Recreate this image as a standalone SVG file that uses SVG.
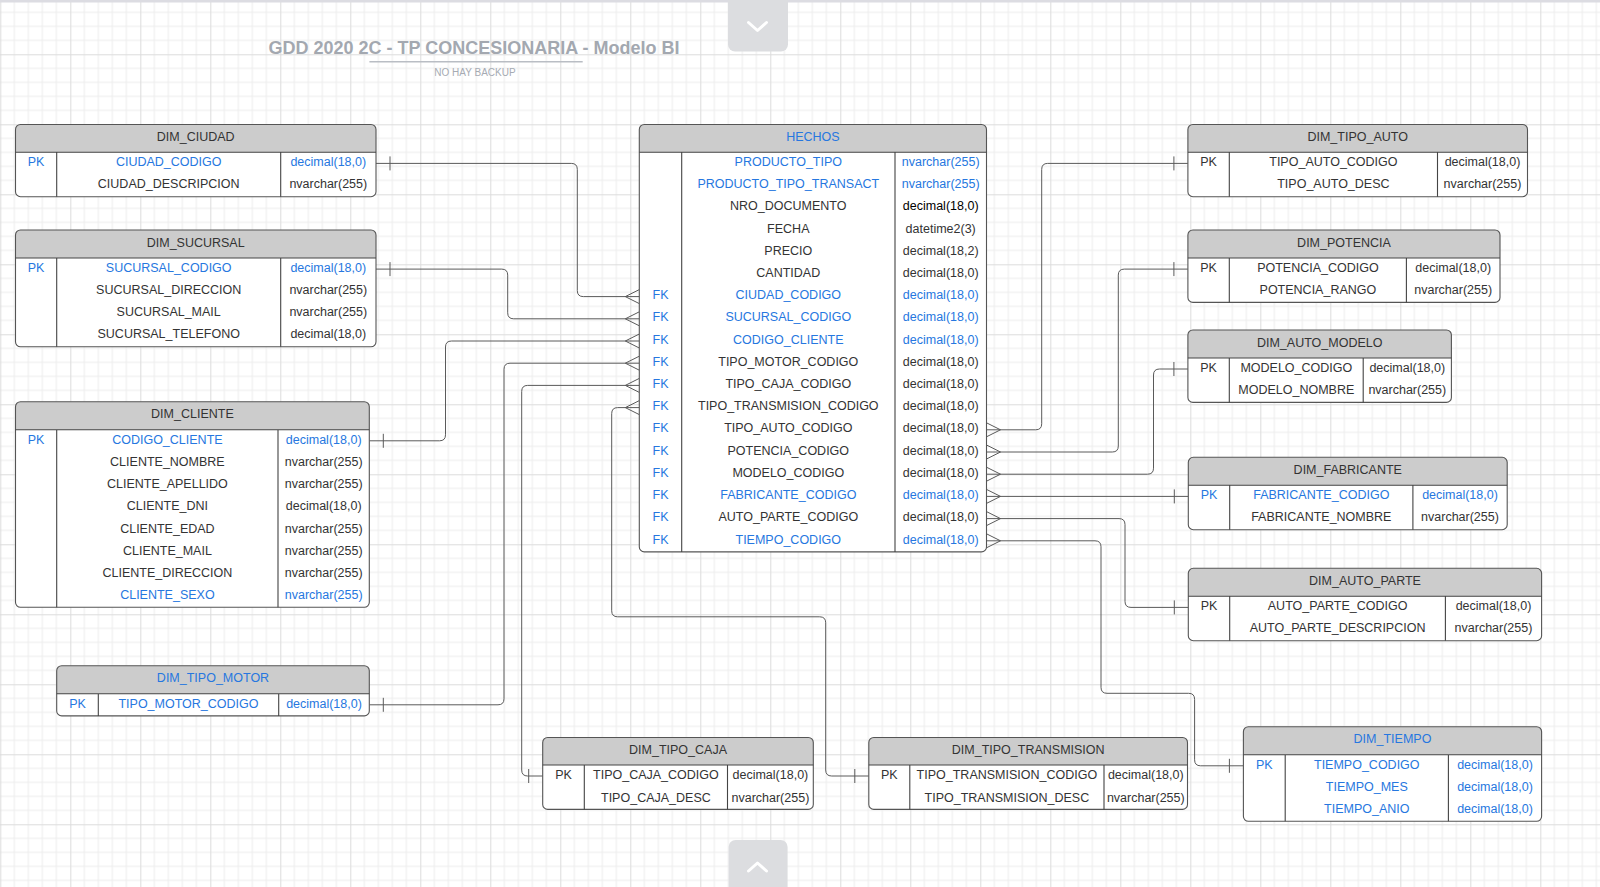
<svg xmlns="http://www.w3.org/2000/svg" width="1600" height="887" viewBox="0 0 1600 887">
<style>
.t{font-family:"Liberation Sans",Arial,sans-serif;font-size:12.5px;fill:#333;text-anchor:middle}
.b{fill:#2677e0}
.k{fill:#000}
.box{fill:#fff;stroke:none}
.hd{fill:#cccccc;stroke:none}
.fr{fill:none;stroke:#555;stroke-width:1.1}
.ln{fill:none;stroke:#444;stroke-width:1.1}
.cn{fill:none;stroke:#5a5a5a;stroke-width:1}
.btn{fill:#dcdde0}
.chev{fill:none;stroke:#fff;stroke-width:3;stroke-linecap:round;stroke-linejoin:round}
</style>
<defs>
<pattern id="grid" x="0.3" y="54.3" width="70" height="70" patternUnits="userSpaceOnUse">
<path d="M14 0V70M28 0V70M42 0V70M56 0V70M0 14H70M0 28H70M0 42H70M0 56H70" fill="none" stroke="#ececec" stroke-width="1"/>
<path d="M0.5 0V70M0 0.5H70" fill="none" stroke="#dcdcdc" stroke-width="1"/>
</pattern>
</defs>
<rect width="1600" height="887" fill="#fff"/>
<rect width="1600" height="887" fill="url(#grid)"/>
<rect width="1600" height="2.5" fill="#dcdce2"/>

<g id="title">
<text x="474" y="54" style="font-family:'Liberation Sans',Arial,sans-serif;font-size:18px;font-weight:bold;fill:#a3a8b0;text-anchor:middle">GDD 2020 2C - TP CONCESIONARIA - Modelo BI</text>
<line x1="369.4" y1="61.7" x2="582.7" y2="61.7" stroke="#b9bdc4" stroke-width="1.6"/>
<text x="475" y="76" style="font-family:'Liberation Sans',Arial,sans-serif;font-size:10px;fill:#a6abb3;text-anchor:middle">NO HAY BACKUP</text>
</g>

<g id="nav">
<rect class="btn" x="728" y="-10" width="60" height="61.5" rx="7"/>
<polyline class="chev" points="748.5,22.5 757.5,30.5 766.5,22.5"/>
<rect class="btn" x="728.6" y="840" width="59" height="60" rx="7"/>
<polyline class="chev" points="748.5,871 757.5,863 766.5,871"/>
</g>

<g id="connectors">
<path class="cn" d="M376 163.4H571.3Q577.3 163.4 577.3 169.4V290.6Q577.3 296.6 583.3 296.6H639.3"/>
<path class="cn" d="M376 269.1H501.7Q507.7 269.1 507.7 275.1V312.8Q507.7 318.8 513.7 318.8H639.3"/>
<path class="cn" d="M369.3 440.8H439.5Q445.5 440.8 445.5 434.8V347Q445.5 341 451.5 341H639.3"/>
<path class="cn" d="M369.3 704.8H498Q504 704.8 504 698.8V369.2Q504 363.2 510 363.2H639.3"/>
<path class="cn" d="M639.3 385.4H527.7Q521.7 385.4 521.7 391.4V770Q521.7 776 527.7 776H542.7"/>
<path class="cn" d="M639.3 407.6H617.7Q611.7 407.6 611.7 413.6V610.8Q611.7 616.8 617.7 616.8H819.7Q825.7 616.8 825.7 622.8V770Q825.7 776 831.7 776H868.8"/>
<path class="cn" d="M986.5 429.8H1035.7Q1041.7 429.8 1041.7 423.8V169.4Q1041.7 163.4 1047.7 163.4H1187.9"/>
<path class="cn" d="M986.5 452H1112.3Q1118.3 452 1118.3 446V275.1Q1118.3 269.1 1124.3 269.1H1187.9"/>
<path class="cn" d="M986.5 474.2H1147.5Q1153.5 474.2 1153.5 468.2V375Q1153.5 369 1159.5 369H1187.9"/>
<path class="cn" d="M986.5 496.4H1188.3"/>
<path class="cn" d="M986.5 518.6H1119Q1125 518.6 1125 524.6V601.4Q1125 607.4 1131 607.4H1188.3"/>
<path class="cn" d="M986.5 540.8H1095Q1101 540.8 1101 546.8V687.3Q1101 693.3 1107 693.3H1188.6Q1194.6 693.3 1194.6 699.3V759.8Q1194.6 765.8 1200.6 765.8H1243.4"/>
<path class="cn" d="M390 156.4V170.4M390 262.1V276.1M383.3 433.8V447.8M383.3 697.8V711.8M528.7 769V783M854.8 769V783M1173.9 156.4V170.4M1173.9 262.1V276.1M1173.9 362V376M1174.3 489.4V503.4M1174.3 600.4V614.4M1229.4 758.8V772.8"/>
<path class="cn" d="M639.3 289.6L625.3 296.6L639.3 303.6M639.3 311.8L625.3 318.8L639.3 325.8M639.3 334L625.3 341L639.3 348M639.3 356.2L625.3 363.2L639.3 370.2M639.3 378.4L625.3 385.4L639.3 392.4M639.3 400.6L625.3 407.6L639.3 414.6"/>
<path class="cn" d="M986.5 422.8L1000.5 429.8L986.5 436.8M986.5 445L1000.5 452L986.5 459M986.5 467.2L1000.5 474.2L986.5 481.2M986.5 489.4L1000.5 496.4L986.5 503.4M986.5 511.6L1000.5 518.6L986.5 525.6M986.5 533.8L1000.5 540.8L986.5 547.8"/>
</g>

<g id="dim_ciudad">
<rect class="box" x="15.5" y="124.5" width="360.5" height="72.2" rx="5"/>
<path class="hd" d="M15.5 152.3V129.5Q15.5 124.5 20.5 124.5H371Q376 124.5 376 129.5V152.3Z"/>
<rect class="fr" x="15.5" y="124.5" width="360.5" height="72.2" rx="5"/>
<path class="ln" d="M15.5 152.3H376M56.7 152.3V196.7M280.7 152.3V196.7"/>
<text class="t" x="195.7" y="141">DIM_CIUDAD</text>
<text class="t b" x="36" y="166.4">PK</text><text class="t b" x="168.7" y="166.4">CIUDAD_CODIGO</text><text class="t b" x="328.3" y="166.4">decimal(18,0)</text>
<text class="t" x="168.7" y="188">CIUDAD_DESCRIPCION</text><text class="t" x="328.3" y="188">nvarchar(255)</text>
</g>

<g id="dim_sucursal">
<rect class="box" x="15.5" y="230" width="360.5" height="116.8" rx="5"/>
<path class="hd" d="M15.5 258V235Q15.5 230 20.5 230H371Q376 230 376 235V258Z"/>
<rect class="fr" x="15.5" y="230" width="360.5" height="116.8" rx="5"/>
<path class="ln" d="M15.5 258H376M56.7 258V346.8M280.7 258V346.8"/>
<text class="t" x="195.7" y="246.5">DIM_SUCURSAL</text>
<text class="t b" x="36" y="272.1">PK</text><text class="t b" x="168.7" y="272.1">SUCURSAL_CODIGO</text><text class="t b" x="328.3" y="272.1">decimal(18,0)</text>
<text class="t" x="168.7" y="294.1">SUCURSAL_DIRECCION</text><text class="t" x="328.3" y="294.1">nvarchar(255)</text>
<text class="t" x="168.7" y="316.2">SUCURSAL_MAIL</text><text class="t" x="328.3" y="316.2">nvarchar(255)</text>
<text class="t" x="168.7" y="338.3">SUCURSAL_TELEFONO</text><text class="t" x="328.3" y="338.3">decimal(18,0)</text>
</g>

<g id="dim_cliente">
<rect class="box" x="15.5" y="401.7" width="353.8" height="205.6" rx="5"/>
<path class="hd" d="M15.5 429.7V406.7Q15.5 401.7 20.5 401.7H364.3Q369.3 401.7 369.3 406.7V429.7Z"/>
<rect class="fr" x="15.5" y="401.7" width="353.8" height="205.6" rx="5"/>
<path class="ln" d="M15.5 429.7H369.3M56.7 429.7V607.3M278 429.7V607.3"/>
<text class="t" x="192.4" y="418.4">DIM_CLIENTE</text>
<text class="t b" x="36" y="443.8">PK</text><text class="t b" x="167.4" y="443.8">CODIGO_CLIENTE</text><text class="t b" x="323.7" y="443.8">decimal(18,0)</text>
<text class="t" x="167.4" y="466">CLIENTE_NOMBRE</text><text class="t" x="323.7" y="466">nvarchar(255)</text>
<text class="t" x="167.4" y="488.2">CLIENTE_APELLIDO</text><text class="t" x="323.7" y="488.2">nvarchar(255)</text>
<text class="t" x="167.4" y="510.4">CLIENTE_DNI</text><text class="t" x="323.7" y="510.4">decimal(18,0)</text>
<text class="t" x="167.4" y="532.6">CLIENTE_EDAD</text><text class="t" x="323.7" y="532.6">nvarchar(255)</text>
<text class="t" x="167.4" y="554.8">CLIENTE_MAIL</text><text class="t" x="323.7" y="554.8">nvarchar(255)</text>
<text class="t" x="167.4" y="577">CLIENTE_DIRECCION</text><text class="t" x="323.7" y="577">nvarchar(255)</text>
<text class="t b" x="167.4" y="599.2">CLIENTE_SEXO</text><text class="t b" x="323.7" y="599.2">nvarchar(255)</text>
</g>

<g id="dim_tipo_motor">
<rect class="box" x="56.7" y="665.7" width="312.6" height="50.2" rx="5"/>
<path class="hd" d="M56.7 693.7V670.7Q56.7 665.7 61.7 665.7H364.3Q369.3 665.7 369.3 670.7V693.7Z"/>
<rect class="fr" x="56.7" y="665.7" width="312.6" height="50.2" rx="5"/>
<path class="ln" d="M56.7 693.7H369.3M98.3 693.7V715.9M278.7 693.7V715.9"/>
<text class="t b" x="213" y="682.4">DIM_TIPO_MOTOR</text>
<text class="t b" x="77.5" y="707.8">PK</text><text class="t b" x="188.5" y="707.8">TIPO_MOTOR_CODIGO</text><text class="t b" x="324" y="707.8">decimal(18,0)</text>
</g>

<g id="hechos">
<rect class="box" x="639.3" y="124.5" width="347.2" height="427.4" rx="5"/>
<path class="hd" d="M639.3 152.3V129.5Q639.3 124.5 644.3 124.5H981.5Q986.5 124.5 986.5 129.5V152.3Z"/>
<rect class="fr" x="639.3" y="124.5" width="347.2" height="427.4" rx="5"/>
<path class="ln" d="M639.3 152.3H986.5M681.7 152.3V551.9M895 152.3V551.9"/>
<text class="t b" x="812.9" y="141">HECHOS</text>
<text class="t b" x="788.3" y="166.4">PRODUCTO_TIPO</text><text class="t b" x="940.7" y="166.4">nvarchar(255)</text>
<text class="t b" x="788.3" y="188.3">PRODUCTO_TIPO_TRANSACT</text><text class="t b" x="940.7" y="188.3">nvarchar(255)</text>
<text class="t" x="788.3" y="210.3">NRO_DOCUMENTO</text><text class="t k" x="940.7" y="210.3">decimal(18,0)</text>
<text class="t" x="788.3" y="233">FECHA</text><text class="t" x="940.7" y="233">datetime2(3)</text>
<text class="t" x="788.3" y="255.2">PRECIO</text><text class="t" x="940.7" y="255.2">decimal(18,2)</text>
<text class="t" x="788.3" y="277.2">CANTIDAD</text><text class="t" x="940.7" y="277.2">decimal(18,0)</text>
<text class="t b" x="660.5" y="299.2">FK</text><text class="t b" x="788.3" y="299.2">CIUDAD_CODIGO</text><text class="t b" x="940.7" y="299.2">decimal(18,0)</text>
<text class="t b" x="660.5" y="321.2">FK</text><text class="t b" x="788.3" y="321.2">SUCURSAL_CODIGO</text><text class="t b" x="940.7" y="321.2">decimal(18,0)</text>
<text class="t b" x="660.5" y="344">FK</text><text class="t b" x="788.3" y="344">CODIGO_CLIENTE</text><text class="t b" x="940.7" y="344">decimal(18,0)</text>
<text class="t b" x="660.5" y="366.2">FK</text><text class="t" x="788.3" y="366.2">TIPO_MOTOR_CODIGO</text><text class="t" x="940.7" y="366.2">decimal(18,0)</text>
<text class="t b" x="660.5" y="388.2">FK</text><text class="t" x="788.3" y="388.2">TIPO_CAJA_CODIGO</text><text class="t" x="940.7" y="388.2">decimal(18,0)</text>
<text class="t b" x="660.5" y="410.2">FK</text><text class="t" x="788.3" y="410.2">TIPO_TRANSMISION_CODIGO</text><text class="t" x="940.7" y="410.2">decimal(18,0)</text>
<text class="t b" x="660.5" y="432.2">FK</text><text class="t" x="788.3" y="432.2">TIPO_AUTO_CODIGO</text><text class="t" x="940.7" y="432.2">decimal(18,0)</text>
<text class="t b" x="660.5" y="455">FK</text><text class="t" x="788.3" y="455">POTENCIA_CODIGO</text><text class="t" x="940.7" y="455">decimal(18,0)</text>
<text class="t b" x="660.5" y="477">FK</text><text class="t" x="788.3" y="477">MODELO_CODIGO</text><text class="t" x="940.7" y="477">decimal(18,0)</text>
<text class="t b" x="660.5" y="499.2">FK</text><text class="t b" x="788.3" y="499.2">FABRICANTE_CODIGO</text><text class="t b" x="940.7" y="499.2">decimal(18,0)</text>
<text class="t b" x="660.5" y="521">FK</text><text class="t" x="788.3" y="521">AUTO_PARTE_CODIGO</text><text class="t" x="940.7" y="521">decimal(18,0)</text>
<text class="t b" x="660.5" y="543.8">FK</text><text class="t b" x="788.3" y="543.8">TIEMPO_CODIGO</text><text class="t b" x="940.7" y="543.8">decimal(18,0)</text>
</g>

<g id="dim_tipo_auto">
<rect class="box" x="1187.9" y="124.5" width="339.6" height="72.2" rx="5"/>
<path class="hd" d="M1187.9 152.3V129.5Q1187.9 124.5 1192.9 124.5H1522.5Q1527.5 124.5 1527.5 129.5V152.3Z"/>
<rect class="fr" x="1187.9" y="124.5" width="339.6" height="72.2" rx="5"/>
<path class="ln" d="M1187.9 152.3H1527.5M1229.3 152.3V196.7M1437.5 152.3V196.7"/>
<text class="t" x="1357.7" y="141">DIM_TIPO_AUTO</text>
<text class="t" x="1208.6" y="166.4">PK</text><text class="t" x="1333.4" y="166.4">TIPO_AUTO_CODIGO</text><text class="t" x="1482.5" y="166.4">decimal(18,0)</text>
<text class="t" x="1333.4" y="188">TIPO_AUTO_DESC</text><text class="t" x="1482.5" y="188">nvarchar(255)</text>
</g>

<g id="dim_potencia">
<rect class="box" x="1187.9" y="230" width="312.1" height="72.4" rx="5"/>
<path class="hd" d="M1187.9 258V235Q1187.9 230 1192.9 230H1495Q1500 230 1500 235V258Z"/>
<rect class="fr" x="1187.9" y="230" width="312.1" height="72.4" rx="5"/>
<path class="ln" d="M1187.9 258H1500M1229.3 258V302.4M1406.4 258V302.4"/>
<text class="t" x="1344" y="246.5">DIM_POTENCIA</text>
<text class="t" x="1208.6" y="272.1">PK</text><text class="t" x="1317.9" y="272.1">POTENCIA_CODIGO</text><text class="t" x="1453.2" y="272.1">decimal(18,0)</text>
<text class="t" x="1317.9" y="294">POTENCIA_RANGO</text><text class="t" x="1453.2" y="294">nvarchar(255)</text>
</g>

<g id="dim_auto_modelo">
<rect class="box" x="1187.9" y="330" width="263.5" height="72.4" rx="5"/>
<path class="hd" d="M1187.9 358V335Q1187.9 330 1192.9 330H1446.4Q1451.4 330 1451.4 335V358Z"/>
<rect class="fr" x="1187.9" y="330" width="263.5" height="72.4" rx="5"/>
<path class="ln" d="M1187.9 358H1451.4M1229.3 358V402.4M1363.2 358V402.4"/>
<text class="t" x="1319.7" y="346.5">DIM_AUTO_MODELO</text>
<text class="t" x="1208.6" y="371.5">PK</text><text class="t" x="1296.3" y="371.5">MODELO_CODIGO</text><text class="t" x="1407.3" y="371.5">decimal(18,0)</text>
<text class="t" x="1296.3" y="394.3">MODELO_NOMBRE</text><text class="t" x="1407.3" y="394.3">nvarchar(255)</text>
</g>

<g id="dim_fabricante">
<rect class="box" x="1188.3" y="457.3" width="318.9" height="72.4" rx="5"/>
<path class="hd" d="M1188.3 485.3V462.3Q1188.3 457.3 1193.3 457.3H1502.2Q1507.2 457.3 1507.2 462.3V485.3Z"/>
<rect class="fr" x="1188.3" y="457.3" width="318.9" height="72.4" rx="5"/>
<path class="ln" d="M1188.3 485.3H1507.2M1229.7 485.3V529.7M1412.9 485.3V529.7"/>
<text class="t" x="1347.8" y="473.8">DIM_FABRICANTE</text>
<text class="t b" x="1209" y="499.2">PK</text><text class="t b" x="1321.3" y="499.2">FABRICANTE_CODIGO</text><text class="t b" x="1460" y="499.2">decimal(18,0)</text>
<text class="t" x="1321.3" y="521.2">FABRICANTE_NOMBRE</text><text class="t" x="1460" y="521.2">nvarchar(255)</text>
</g>

<g id="dim_auto_parte">
<rect class="box" x="1188.3" y="568.3" width="353.3" height="72.4" rx="5"/>
<path class="hd" d="M1188.3 596.3V573.3Q1188.3 568.3 1193.3 568.3H1536.6Q1541.6 568.3 1541.6 573.3V596.3Z"/>
<rect class="fr" x="1188.3" y="568.3" width="353.3" height="72.4" rx="5"/>
<path class="ln" d="M1188.3 596.3H1541.6M1229.7 596.3V640.7M1445.4 596.3V640.7"/>
<text class="t" x="1365" y="584.8">DIM_AUTO_PARTE</text>
<text class="t" x="1209" y="610.2">PK</text><text class="t" x="1337.6" y="610.2">AUTO_PARTE_CODIGO</text><text class="t" x="1493.5" y="610.2">decimal(18,0)</text>
<text class="t" x="1337.6" y="632.2">AUTO_PARTE_DESCRIPCION</text><text class="t" x="1493.5" y="632.2">nvarchar(255)</text>
</g>

<g id="dim_tiempo">
<rect class="box" x="1243.4" y="726.7" width="298.2" height="94.6" rx="5"/>
<path class="hd" d="M1243.4 754.7V731.7Q1243.4 726.7 1248.4 726.7H1536.6Q1541.6 726.7 1541.6 731.7V754.7Z"/>
<rect class="fr" x="1243.4" y="726.7" width="298.2" height="94.6" rx="5"/>
<path class="ln" d="M1243.4 754.7H1541.6M1285.2 754.7V821.3M1448.4 754.7V821.3"/>
<text class="t b" x="1392.5" y="743.2">DIM_TIEMPO</text>
<text class="t b" x="1264.3" y="768.5">PK</text><text class="t b" x="1366.8" y="768.5">TIEMPO_CODIGO</text><text class="t b" x="1495" y="768.5">decimal(18,0)</text>
<text class="t b" x="1366.8" y="791">TIEMPO_MES</text><text class="t b" x="1495" y="791">decimal(18,0)</text>
<text class="t b" x="1366.8" y="813">TIEMPO_ANIO</text><text class="t b" x="1495" y="813">decimal(18,0)</text>
</g>

<g id="dim_tipo_caja">
<rect class="box" x="542.7" y="737.5" width="270.6" height="71.9" rx="5"/>
<path class="hd" d="M542.7 765V742.5Q542.7 737.5 547.7 737.5H808.3Q813.3 737.5 813.3 742.5V765Z"/>
<rect class="fr" x="542.7" y="737.5" width="270.6" height="71.9" rx="5"/>
<path class="ln" d="M542.7 765H813.3M584.3 765V809.4M727.5 765V809.4"/>
<text class="t" x="678" y="754">DIM_TIPO_CAJA</text>
<text class="t" x="563.5" y="778.8">PK</text><text class="t" x="655.9" y="778.8">TIPO_CAJA_CODIGO</text><text class="t" x="770.4" y="778.8">decimal(18,0)</text>
<text class="t" x="655.9" y="801.5">TIPO_CAJA_DESC</text><text class="t" x="770.4" y="801.5">nvarchar(255)</text>
</g>

<g id="dim_tipo_transmision">
<rect class="box" x="868.8" y="737.5" width="318.7" height="71.9" rx="5"/>
<path class="hd" d="M868.8 765V742.5Q868.8 737.5 873.8 737.5H1182.5Q1187.5 737.5 1187.5 742.5V765Z"/>
<rect class="fr" x="868.8" y="737.5" width="318.7" height="71.9" rx="5"/>
<path class="ln" d="M868.8 765H1187.5M909.8 765V809.4M1104 765V809.4"/>
<text class="t" x="1028.2" y="754">DIM_TIPO_TRANSMISION</text>
<text class="t" x="889.3" y="778.8">PK</text><text class="t" x="1006.9" y="778.8">TIPO_TRANSMISION_CODIGO</text><text class="t" x="1145.8" y="778.8">decimal(18,0)</text>
<text class="t" x="1006.9" y="801.5">TIPO_TRANSMISION_DESC</text><text class="t" x="1145.8" y="801.5">nvarchar(255)</text>
</g>
</svg>
